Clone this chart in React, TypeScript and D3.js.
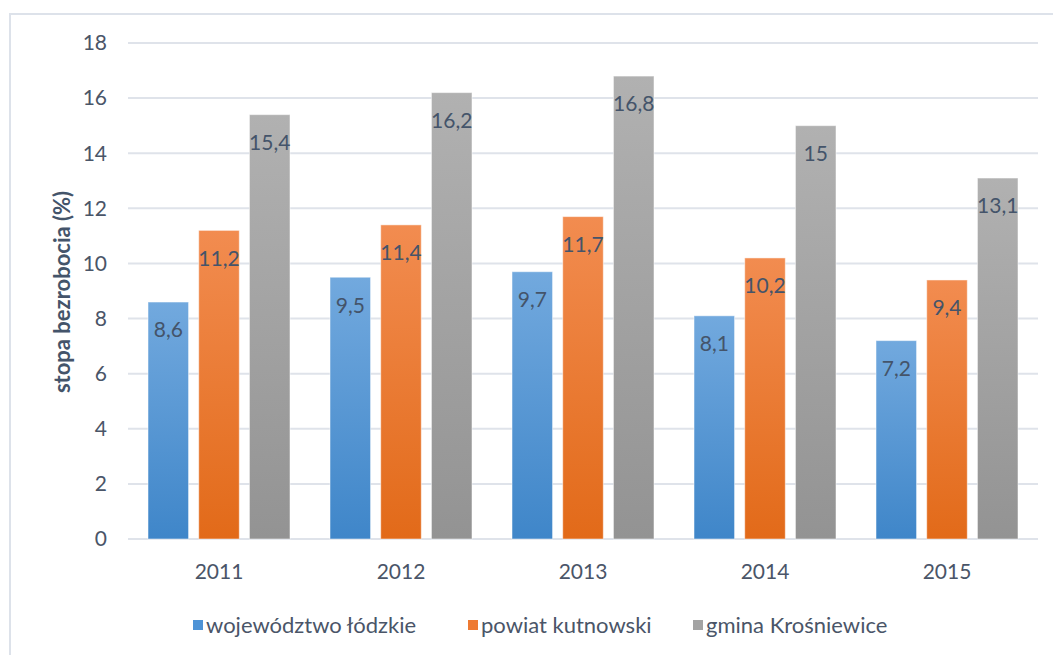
import React from "react";
import * as d3 from "d3";

const years = ["2011", "2012", "2013", "2014", "2015"];
const seriesNames = ["województwo łódzkie", "powiat kutnowski", "gmina Krośniewice"];
const wojewodztwo = [8.6, 9.5, 9.7, 8.1, 7.2];
const powiat = [11.2, 11.4, 11.7, 10.2, 9.4];
const gmina = [15.4, 16.2, 16.8, 15, 13.1];
const yTicks = [0, 2, 4, 6, 8, 10, 12, 14, 16, 18];

const seriesValues = [wojewodztwo, powiat, gmina];
const gradients = [
  { id: "gBlue", top: "#72a9de", bottom: "#3f86c9" },
  { id: "gOrange", top: "#f28c50", bottom: "#e26a19" },
  { id: "gGray", top: "#b1b1b1", bottom: "#939393" },
];
const legendColors = ["#4e93d6", "#ee7a32", "#a3a3a3"];

const W = 1053;
const H = 655;
const FONT = "Lato, 'Open Sans', sans-serif";

export default function App() {
  const x = d3.scaleBand<string>().domain(years).range([128, 1038]).paddingInner(0).paddingOuter(0);
  const y = d3.scaleLinear().domain([0, 18]).range([539, 43]);
  const inner = d3
    .scaleBand<number>()
    .domain([0, 1, 2])
    .range([20, x.bandwidth() - 20])
    .paddingInner(0.2);

  const fmt = (v: number) => String(v).replace(".", ",");

  return (
    <svg
      width={W}
      height={H}
      style={{ position: "absolute", left: 0, top: 0, background: "#fff" }}
    >
      <defs>
        {gradients.map((g) => (
          <linearGradient key={g.id} id={g.id} x1="0" y1="0" x2="0" y2="1">
            <stop offset="0%" stopColor={g.top} />
            <stop offset="100%" stopColor={g.bottom} />
          </linearGradient>
        ))}
      </defs>
      <rect x={10} y={14} width={W + 20} height={H + 20} fill="#fff" stroke="#dde2ea" strokeWidth={2} />
      {yTicks.map((t) => (
        <g key={t}>
          <line x1={128} x2={1038} y1={y(t)} y2={y(t)} stroke="#dfe3ea" strokeWidth={2} />
          <text
            x={107}
            y={y(t)}
            dy="0.35em"
            textAnchor="end"
            fontFamily={FONT}
            fontSize={21}
            fill="#4a5568"
          >
            {t}
          </text>
        </g>
      ))}
      {years.map((yr, i) => (
        <g key={yr} transform={`translate(${x(yr)},0)`}>
          {seriesValues.map((vals, s) => {
            const bx = inner(s)!;
            const bw = inner.bandwidth();
            const top = y(vals[i]);
            return (
              <g key={s}>
                <rect
                  x={bx}
                  y={top}
                  width={bw}
                  height={y(0) - top}
                  fill={`url(#${gradients[s].id})`}
                  stroke="#ffffff"
                  strokeOpacity={0.5}
                  strokeWidth={1}
                />
                <text
                  x={bx + bw / 2}
                  y={top + 28}
                  dy="0.35em"
                  textAnchor="middle"
                  fontFamily={FONT}
                  fontSize={21}
                  fill="#44546a"
                >
                  {fmt(vals[i])}
                </text>
              </g>
            );
          })}
          <text
            x={x.bandwidth() / 2}
            y={572}
            dy="0.35em"
            textAnchor="middle"
            fontFamily={FONT}
            fontSize={21}
            fill="#4a5568"
          >
            {yr}
          </text>
        </g>
      ))}
      <text
        transform="translate(62,292) rotate(-90)"
        textAnchor="middle"
        dy="0.35em"
        fontFamily={FONT}
        fontSize={22}
        fontWeight="bold"
        fill="#44546a"
      >
        stopa bezrobocia (%)
      </text>
      {seriesNames.map((n, s) => {
        const lx = [193, 468, 693][s];
        return (
          <g key={n}>
            <rect x={lx} y={620} width={10} height={10} fill={legendColors[s]} />
            <text
              x={lx + 13}
              y={625}
              dy="0.35em"
              fontFamily={FONT}
              fontSize={22}
              fill="#4a5568"
            >
              {n}
            </text>
          </g>
        );
      })}
    </svg>
  );
}
